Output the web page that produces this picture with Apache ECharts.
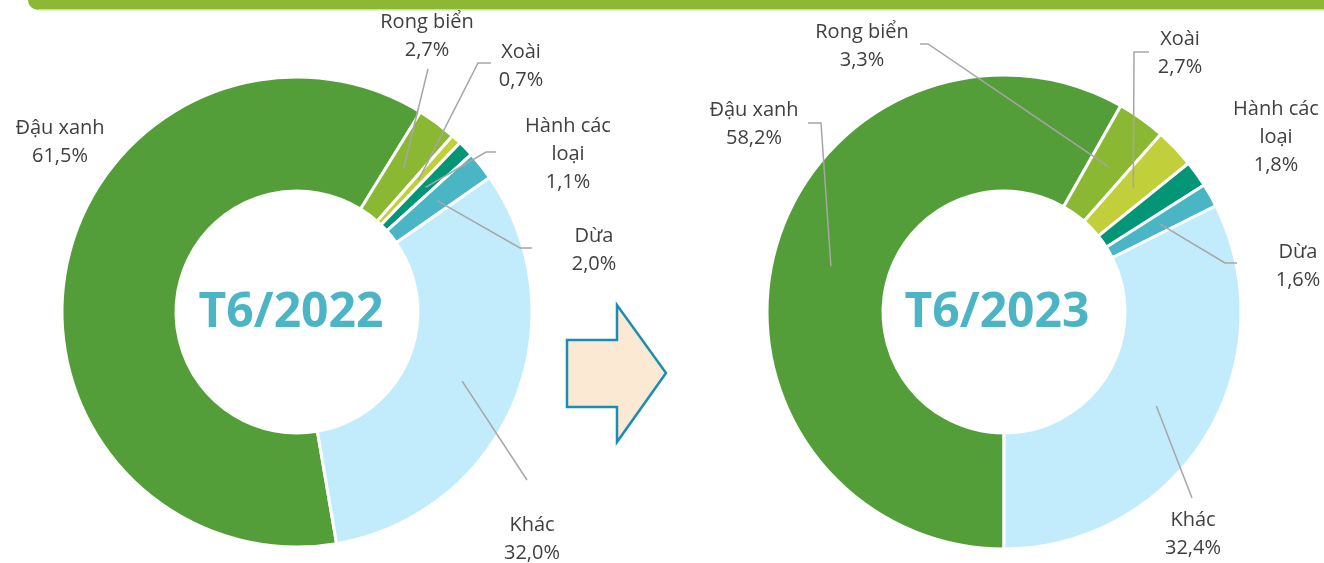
<!DOCTYPE html>
<html>
<head>
<meta charset="utf-8">
<script src="https://cdn.jsdelivr.net/npm/echarts@6/dist/echarts.min.js"></script>
<style>
  html, body { margin: 0; padding: 0; background: #fff; }
  #chart { width: 1324px; height: 563px; }
</style>
</head>
<body>
<div id="chart"></div>
<script>
  const categories = ['Đậu xanh', 'Rong biển', 'Xoài', 'Hành các loại', 'Dừa', 'Khác']
  const share2022 = [61.5, 2.7, 0.7, 1.1, 2.0, 32.0]
  const share2023 = [58.2, 3.3, 2.7, 1.8, 1.6, 32.4]
  const titles = ['T6/2022', 'T6/2023']

  const colors = ['#549E39', '#8AB833', '#C0CF3A', '#029676', '#4AB5C4', '#C2ECFB']

  // vi tri nhan: tam nhan (x, y), diem gap khuc cua duong dan, diem cuoi
  const labels2022 = [
    { x: 60, y: 142 },
    { x: 427, y: 36, bend: [428, 69], end: [428, 69] },
    { x: 521, y: 66, bend: [478, 63], end: [491, 63] },
    { x: 568, y: 154, bend: [486, 152], end: [496, 152] },
    { x: 594, y: 250, bend: [520, 248], end: [532, 248] },
    { x: 532, y: 539, bend: [527, 480], end: [527, 480] }
  ]
  const labels2023 = [
    { x: 754, y: 124, bend: [821, 123], end: [808, 123] },
    { x: 862, y: 46, bend: [928, 44], end: [920, 44] },
    { x: 1180, y: 53, bend: [1134, 52], end: [1149, 52] },
    { x: 1276, y: 137 },
    { x: 1298, y: 266, bend: [1225, 263], end: [1237, 263] },
    { x: 1193, y: 534, bend: [1192, 498], end: [1192, 498] }
  ]

  const textColor = '#404040'
  const font = '"Open Sans", "Noto Sans", sans-serif'
  let chart = null

  function fmt (params) {
    let name = params.name
    if (name.length > 10) {
      const i = name.lastIndexOf(' ')
      name = name.slice(0, i) + '\n' + name.slice(i + 1)
    }
    return name + '\n' + params.value.toFixed(1).replace('.', ',') + '%'
  }

  // diem bat dau duong dan: giua vanh, tai goc giua cua lat
  function lineStart (params, values, center, startAngle) {
    let lay = null
    try {
      lay = chart.getModel().getSeriesByIndex(params.seriesIndex).getData().getItemLayout(params.dataIndex)
    } catch (e) {
      lay = null
    }
    let mid
    if (lay && lay.startAngle != null) {
      mid = (lay.startAngle + lay.endAngle) / 2
    } else {
      const total = values.reduce((a, b) => a + b, 0)
      let acc = 0
      for (let i = 0; i < params.dataIndex; i++) acc += values[i]
      acc += values[params.dataIndex] / 2
      mid = (-startAngle + acc / total * 360) * Math.PI / 180
    }
    const r = 179
    return [center[0] + Math.cos(mid) * r, center[1] + Math.sin(mid) * r]
  }

  // 2 series: lop duoi ve cac lat, lop tren (trong suot) ve nhan va duong dan
  function makePie (values, pos, center, radius, startAngle) {
    const base = {
      type: 'pie',
      z: 2,
      center: center,
      radius: radius,
      startAngle: startAngle,
      clockwise: true,
      silent: true,
      itemStyle: { borderColor: '#fff', borderWidth: 3 },
      label: { show: false },
      labelLine: { show: false },
      data: categories.map((c, i) => ({
        name: c,
        value: values[i],
        itemStyle: { color: colors[i] }
      }))
    }
    const top = {
      type: 'pie',
      z: 5,
      center: center,
      radius: radius,
      startAngle: startAngle,
      clockwise: true,
      avoidLabelOverlap: false,
      silent: true,
      itemStyle: { color: 'rgba(0,0,0,0)', borderWidth: 0 },
      label: {
        show: true,
        position: 'outside',
        formatter: fmt,
        color: textColor,
        fontFamily: font,
        fontSize: 20,
        lineHeight: 28
      },
      labelLine: {
        show: true,
        showAbove: true,
        smooth: false,
        minTurnAngle: 0,
        lineStyle: { color: '#A6A6A6', width: 1.5 }
      },
      labelLayout: function (params) {
        const p = pos[params.dataIndex]
        const res = { x: p.x, y: p.y, align: 'center', verticalAlign: 'middle' }
        if (p.bend) {
          res.labelLinePoints = [lineStart(params, values, center, startAngle), p.bend.slice(), p.end.slice()]
        }
        return res
      },
      data: categories.map((c, i) => ({
        name: c,
        value: values[i],
        labelLine: { show: !!pos[i].bend }
      }))
    }
    return [base, top]
  }

  chart = echarts.init(document.getElementById('chart'))
  chart.setOption({
    animation: false,
    backgroundColor: '#fff',
    graphic: [
      {
        type: 'rect',
        shape: { x: 28, y: -20, width: 1320, height: 30, r: 10 },
        style: { fill: '#8CB834' }
      },
      {
        type: 'rect',
        shape: { x: 38, y: 9, width: 1300, height: 1.5 },
        style: { fill: '#C9DFA0' }
      },
      {
        type: 'polygon',
        shape: { points: [[567, 340], [617, 340], [617, 305], [666, 373], [617, 442], [617, 407], [567, 407]] },
        style: { fill: '#FBE9D3', stroke: '#1B8DB3', lineWidth: 2.5 }
      },
      {
        type: 'text',
        x: 291,
        y: 313,
        z: 10,
        style: { text: titles[0], align: 'center', verticalAlign: 'middle', fill: '#4BB5C6', font: 'bold 48px "Open Sans", sans-serif' }
      },
      {
        type: 'text',
        x: 997,
        y: 313,
        z: 10,
        style: { text: titles[1], align: 'center', verticalAlign: 'middle', fill: '#4BB5C6', font: 'bold 48px "Open Sans", sans-serif' }
      }
    ],
    series: [].concat(
      makePie(share2022, labels2022, [297, 312], [121, 235], -80.3),
      makePie(share2023, labels2023, [1004, 312], [121, 237], -90)
    )
  })
</script>
</body>
</html>
